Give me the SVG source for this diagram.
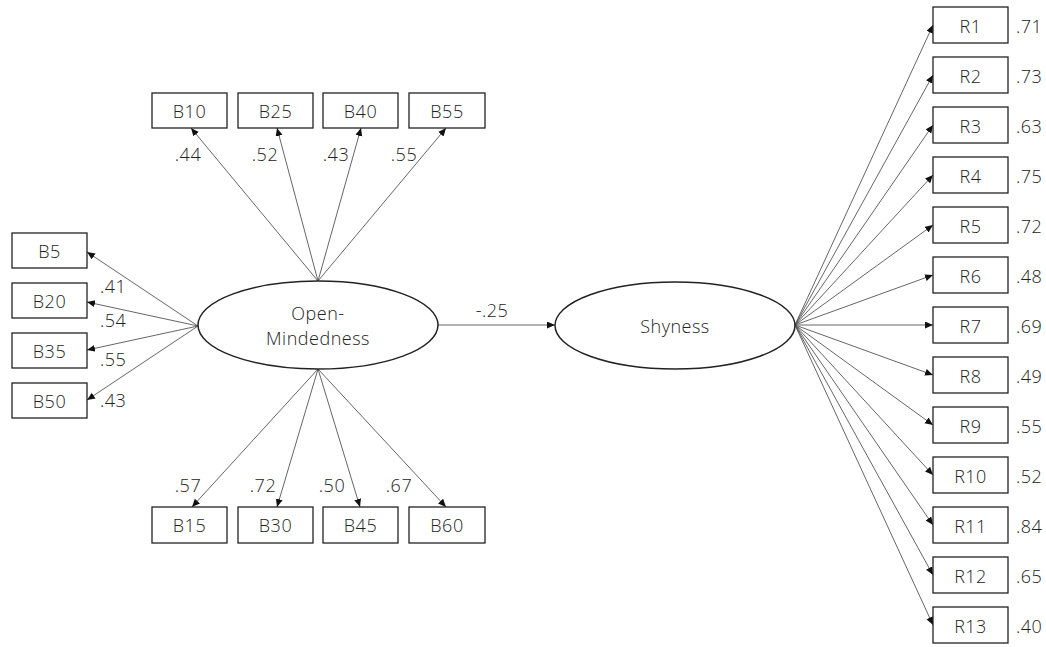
<svg xmlns="http://www.w3.org/2000/svg" width="1046" height="647" viewBox="0 0 1046 647">
<defs>
<style>
.box{fill:#fff;stroke:#222;stroke-width:1.3}
.ell{fill:#fff;stroke:#222;stroke-width:1.5}
.lbl{font-family:"Open Sans","Liberation Sans",sans-serif;font-size:18px;font-weight:300;letter-spacing:0.5px;fill:#222;text-anchor:middle}
.num{font-family:"Open Sans","Liberation Sans",sans-serif;font-size:18px;font-weight:300;letter-spacing:0.5px;fill:#222}
.c line{stroke:#555;stroke-width:0.9;marker-end:url(#ah)}
</style>
<marker id="ah" markerUnits="userSpaceOnUse" markerWidth="9" markerHeight="8" refX="8" refY="3.5" orient="auto">
<path d="M0,0 L8,3.5 L0,7 Z" fill="#111"/>
</marker>
</defs>
<rect width="1046" height="647" fill="#fff"/>
<g id="connectors" class="c">
<line x1="318" y1="281" x2="191" y2="128"/>
<line x1="318" y1="281" x2="277" y2="128"/>
<line x1="318" y1="281" x2="361" y2="128"/>
<line x1="318" y1="281" x2="446" y2="128"/>
<line x1="198" y1="326" x2="87" y2="252"/>
<line x1="198" y1="326" x2="87" y2="302"/>
<line x1="198" y1="326" x2="87" y2="350"/>
<line x1="198" y1="326" x2="87" y2="400"/>
<line x1="318" y1="369" x2="192" y2="507"/>
<line x1="318" y1="369" x2="277" y2="507"/>
<line x1="318" y1="369" x2="360" y2="507"/>
<line x1="318" y1="369" x2="446" y2="507"/>
<line x1="438" y1="325" x2="555" y2="325"/>
<line x1="795" y1="325" x2="933" y2="25"/>
<line x1="795" y1="325" x2="933" y2="75"/>
<line x1="795" y1="325" x2="933" y2="125"/>
<line x1="795" y1="325" x2="933" y2="175"/>
<line x1="795" y1="325" x2="933" y2="225"/>
<line x1="795" y1="325" x2="933" y2="275"/>
<line x1="795" y1="325" x2="933" y2="325"/>
<line x1="795" y1="325" x2="933" y2="375"/>
<line x1="795" y1="325" x2="933" y2="425"/>
<line x1="795" y1="325" x2="933" y2="475"/>
<line x1="795" y1="325" x2="933" y2="525"/>
<line x1="795" y1="325" x2="933" y2="575"/>
<line x1="795" y1="325" x2="933" y2="625"/>
</g>
<g id="connector-labels" class="num">
<text x="188" y="161" text-anchor="middle">.44</text>
<text x="265" y="161" text-anchor="middle">.52</text>
<text x="336" y="161" text-anchor="middle">.43</text>
<text x="404" y="161" text-anchor="middle">.55</text>
<text x="100" y="293">.41</text>
<text x="100" y="327">.54</text>
<text x="100" y="366">.55</text>
<text x="100" y="407">.43</text>
<text x="188" y="492" text-anchor="middle">.57</text>
<text x="263" y="492" text-anchor="middle">.72</text>
<text x="332" y="492" text-anchor="middle">.50</text>
<text x="399" y="492" text-anchor="middle">.67</text>
<text x="492" y="317" text-anchor="middle">-.25</text>
<text x="1016" y="33">.71</text>
<text x="1016" y="83">.73</text>
<text x="1016" y="133">.63</text>
<text x="1016" y="183">.75</text>
<text x="1016" y="233">.72</text>
<text x="1016" y="283">.48</text>
<text x="1016" y="333">.69</text>
<text x="1016" y="383">.49</text>
<text x="1016" y="433">.55</text>
<text x="1016" y="483">.52</text>
<text x="1016" y="533">.84</text>
<text x="1016" y="583">.65</text>
<text x="1016" y="633">.40</text>
</g>
<g id="open-mindedness"><ellipse class="ell" cx="318" cy="325" rx="120" ry="44"/><text class="lbl" x="318" y="320">Open-</text><text class="lbl" x="318" y="345">Mindedness</text></g>
<g id="shyness"><ellipse class="ell" cx="675" cy="325.5" rx="120" ry="43.5"/><text class="lbl" x="675" y="333">Shyness</text></g>
<g id="B10"><rect class="box" x="152" y="93" width="75" height="35"/><text class="lbl" x="189.5" y="118">B10</text></g>
<g id="B25"><rect class="box" x="238" y="93" width="75" height="35"/><text class="lbl" x="275.5" y="118">B25</text></g>
<g id="B40"><rect class="box" x="323" y="93" width="75" height="35"/><text class="lbl" x="360.5" y="118">B40</text></g>
<g id="B55"><rect class="box" x="409" y="93" width="76" height="35"/><text class="lbl" x="447" y="118">B55</text></g>
<g id="B5"><rect class="box" x="12" y="233" width="75" height="35"/><text class="lbl" x="49.5" y="258">B5</text></g>
<g id="B20"><rect class="box" x="12" y="283" width="75" height="35"/><text class="lbl" x="49.5" y="308">B20</text></g>
<g id="B35"><rect class="box" x="12" y="333" width="75" height="35"/><text class="lbl" x="49.5" y="358">B35</text></g>
<g id="B50"><rect class="box" x="12" y="383" width="75" height="35"/><text class="lbl" x="49.5" y="408">B50</text></g>
<g id="B15"><rect class="box" x="152" y="507" width="75" height="36"/><text class="lbl" x="189.5" y="532">B15</text></g>
<g id="B30"><rect class="box" x="238" y="507" width="75" height="36"/><text class="lbl" x="275.5" y="532">B30</text></g>
<g id="B45"><rect class="box" x="323" y="507" width="75" height="36"/><text class="lbl" x="360.5" y="532">B45</text></g>
<g id="B60"><rect class="box" x="409" y="507" width="76" height="36"/><text class="lbl" x="447" y="532">B60</text></g>
<g id="R1"><rect class="box" x="933" y="7" width="75" height="36"/><text class="lbl" x="970.5" y="32.5">R1</text></g>
<g id="R2"><rect class="box" x="933" y="57" width="75" height="36"/><text class="lbl" x="970.5" y="82.5">R2</text></g>
<g id="R3"><rect class="box" x="933" y="107" width="75" height="36"/><text class="lbl" x="970.5" y="132.5">R3</text></g>
<g id="R4"><rect class="box" x="933" y="157" width="75" height="36"/><text class="lbl" x="970.5" y="182.5">R4</text></g>
<g id="R5"><rect class="box" x="933" y="207" width="75" height="36"/><text class="lbl" x="970.5" y="232.5">R5</text></g>
<g id="R6"><rect class="box" x="933" y="257" width="75" height="36"/><text class="lbl" x="970.5" y="282.5">R6</text></g>
<g id="R7"><rect class="box" x="933" y="307" width="75" height="36"/><text class="lbl" x="970.5" y="332.5">R7</text></g>
<g id="R8"><rect class="box" x="933" y="357" width="75" height="36"/><text class="lbl" x="970.5" y="382.5">R8</text></g>
<g id="R9"><rect class="box" x="933" y="407" width="75" height="36"/><text class="lbl" x="970.5" y="432.5">R9</text></g>
<g id="R10"><rect class="box" x="933" y="457" width="75" height="36"/><text class="lbl" x="970.5" y="482.5">R10</text></g>
<g id="R11"><rect class="box" x="933" y="507" width="75" height="36"/><text class="lbl" x="970.5" y="532.5">R11</text></g>
<g id="R12"><rect class="box" x="933" y="557" width="75" height="36"/><text class="lbl" x="970.5" y="582.5">R12</text></g>
<g id="R13"><rect class="box" x="933" y="607" width="75" height="36"/><text class="lbl" x="970.5" y="632.5">R13</text></g>
</svg>
